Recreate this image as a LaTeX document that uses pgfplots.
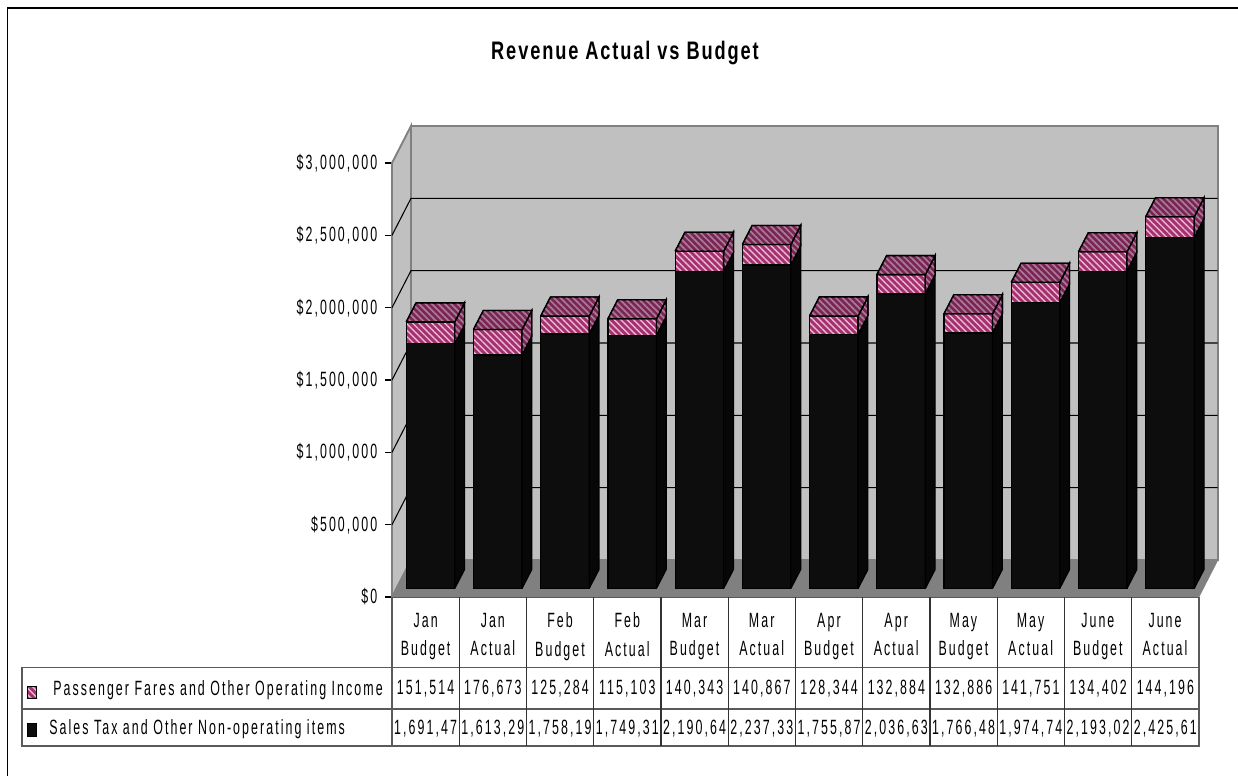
\documentclass[border=0pt]{standalone}
\usepackage{pgfplots}
\usepackage{pgfplotstable}
\usepackage{fontspec}
\pgfplotsset{compat=1.18}
\usetikzlibrary{patterns.meta}
\setmainfont{Liberation Sans}
\newfontfamily\chartfont[FakeStretch=0.6,LetterSpace=10]{Liberation Sans}
\newfontfamily\titlefont[FakeStretch=0.72,LetterSpace=7.4]{Liberation Sans Bold}

\definecolor{wallgrey}{HTML}{C0C0C0}
\definecolor{floorgrey}{HTML}{808080}
\definecolor{barblack}{HTML}{0D0D0D}
\definecolor{barside}{HTML}{070707}
\definecolor{fareface}{HTML}{A5306E}
\definecolor{farestripe}{HTML}{E8B8D4}
\definecolor{faredark}{HTML}{7A2455}
\definecolor{faredarkstripe}{HTML}{A87A94}

% revenue by month, in dollars
\pgfplotstableread{
sales   fares
1691470 151514
1613290 176673
1758190 125284
1749310 115103
2190640 140343
2237330 140867
1755870 128344
2036630 132884
1766480 132886
1974740 141751
2193020 134402
2425610 144196
}\revenue

% corners of the three visible faces of a box: across, up, into the depth
\pgfplotstableread{
u h d
0 0 0
1 0 0
1 1 0
0 1 0
0 0 0
}\frontface
\pgfplotstableread{
u h d
1 0 0
1 0 1
1 1 1
1 1 0
1 0 0
}\sideface
\pgfplotstableread{
u h d
0 1 0
1 1 0
1 1 1
0 1 1
0 1 0
}\topface

\newcommand{\barface}[5]{% style, corners, index, lower, upper
  \addplot[#1] table[
    x expr={#3+0.0729-0.3606+\thisrow{u}*0.7212+\thisrow{d}*0.1457},
    y expr={58800+#4+\thisrow{h}*(#5-#4)+\thisrow{d}*131400}
  ] {#2};
}

\tikzset{
  black face/.style={draw=black,line width=0.9pt,fill=barblack},
  black side/.style={draw=black,line width=0.9pt,fill=barside},
  fare face/.style={draw=black,line width=1pt,preaction={fill=fareface},
    pattern={Lines[angle=-45,distance=3.4pt,line width=1.05pt]},pattern color=farestripe},
  fare dark/.style={draw=black,line width=1pt,preaction={fill=faredark},
    pattern={Lines[angle=-45,distance=3.4pt,line width=1.3pt]},pattern color=faredarkstripe},
}

\begin{document}
\begin{tikzpicture}[x=0.75pt,y=-0.75pt]
\useasboundingbox (0,0) rectangle (1238,776);
\fill[white] (0,0) rectangle (1238,776);

% chart frame, open at the right and bottom
\draw[black,line width=1pt] (1238,8) -- (7.5,8) -- (7.5,776);

\node[font=\titlefont\fontsize{19pt}{21pt}\selectfont] at (625,53) {Revenue Actual vs Budget};

\begin{axis}[
  at={(294pt,-447.75pt)},anchor=south west,
  scale only axis,width=605pt,height=325.5pt,
  xmin=-0.5,xmax=11.5,ymin=0,ymax=3000000,
  clip=false,
  axis x line*=bottom,axis y line*=left,
  axis line style={draw=black,line width=0.9pt,-},
  xtick={0,...,11},
  xticklabels={{Jan\\Budget},{Jan\\Actual},{Feb\\Budget},{Feb\\Actual},{Mar\\Budget},{Mar\\Actual},{Apr\\Budget},{Apr\\Actual},{May\\Budget},{May\\Actual},{June\\Budget},{June\\Actual}},
  xticklabel style={align=center,font=\chartfont\fontsize{15.5pt}{21.5pt}\selectfont,anchor=north,yshift=-3.3pt},
  x tick style={draw=none},
  ytick={0,500000,1000000,1500000,2000000,2500000,3000000},
  yticklabels={{\$0},{\$500,000},{\$1,000,000},{\$1,500,000},{\$2,000,000},{\$2,500,000},{\$3,000,000}},
  scaled y ticks=false,
  yticklabel style={font=\chartfont\fontsize{15.5pt}{17pt}\selectfont,anchor=east,xshift=-2.5pt},
  y tick style={draw=black,line width=0.9pt},
  tick align=outside,major tick length=5pt,
]
% back wall, side wall and floor, pushed back by the chart depth
\addplot[fill=wallgrey,draw=floorgrey,line width=1.4pt] coordinates {(-0.2175,255900) (11.7825,255900) (11.7825,3255900) (-0.2175,3255900) (-0.2175,255900)};
\addplot[fill=wallgrey,draw=floorgrey,line width=1.4pt] coordinates {(-0.5,0) (-0.5,3000000) (-0.2175,3255900) (-0.2175,255900) (-0.5,0)};
\addplot[fill=floorgrey,draw=floorgrey,line width=0.8pt] coordinates {(-0.5,0) (-0.2175,255900) (11.7825,255900) (11.5,0) (-0.5,0)};
% gridlines across the two walls
\addplot[black,line width=0.8pt] coordinates {(-0.5,500000) (-0.2175,755900) (11.7825,755900)};
\addplot[black,line width=0.8pt] coordinates {(-0.5,1000000) (-0.2175,1255900) (11.7825,1255900)};
\addplot[black,line width=0.8pt] coordinates {(-0.5,1500000) (-0.2175,1755900) (11.7825,1755900)};
\addplot[black,line width=0.8pt] coordinates {(-0.5,2000000) (-0.2175,2255900) (11.7825,2255900)};
\addplot[black,line width=0.8pt] coordinates {(-0.5,2500000) (-0.2175,2755900) (11.7825,2755900)};

\pgfplotsinvokeforeach{0,...,11}{
  \pgfplotstablegetelem{#1}{sales}\of\revenue
  \edef\salesval{\pgfplotsretval}
  \pgfplotstablegetelem{#1}{fares}\of\revenue
  \edef\faresval{\pgfplotsretval}
  \barface{black face}{\frontface}{#1}{0}{\salesval}
  \barface{black side}{\sideface}{#1}{0}{\salesval}
  \barface{fare face}{\frontface}{#1}{\salesval}{\salesval+\faresval}
  \barface{fare dark}{\sideface}{#1}{\salesval}{\salesval+\faresval}
  \barface{fare dark}{\topface}{#1}{\salesval}{\salesval+\faresval}
}
\end{axis}

% data table below the plot
\begin{scope}[line width=0.9pt]
\draw[floorgrey!70!black] (22,667.5) rectangle (1199,746);
\draw[floorgrey!70!black] (22,709) -- (1199,709);
\draw[floorgrey!70!black] (392,597) -- (392,746);
\draw[floorgrey!70!black] (1199,597) -- (1199,746);
\foreach \i in {1,...,11}
  \draw[black!80] ({392+67.25*\i},597) -- ({392+67.25*\i},746);
\end{scope}

\path[font=\chartfont\fontsize{15.5pt}{17pt}\selectfont]
  foreach \i/\t in {0/151{,}514,1/176{,}673,2/125{,}284,3/115{,}103,4/140{,}343,5/140{,}867,6/128{,}344,7/132{,}884,8/132{,}886,9/141{,}751,10/134{,}402,11/144{,}196}
    {({425.6+67.25*\i},689) node {\t}}
  foreach \i/\t in {0/1{,}691{,}47,1/1{,}613{,}29,2/1{,}758{,}19,3/1{,}749{,}31,4/2{,}190{,}64,5/2{,}237{,}33,6/1{,}755{,}87,7/2{,}036{,}63,8/1{,}766{,}48,9/1{,}974{,}74,10/2{,}193{,}02,11/2{,}425{,}61}
    {({425.6+67.25*\i},728.5) node {\t}};

% legend keys and series names in the first column
\path[fare face,line width=0.6pt] (27,686) rectangle (36,698);
\fill[barblack,draw=black] (27,723) rectangle (36,736);
\node[font=\chartfont\fontsize{15.5pt}{17pt}\selectfont,anchor=west,inner sep=0pt] at (53,690) {Passenger Fares and Other Operating Income};
\node[font=\chartfont\fontsize{15.5pt}{17pt}\selectfont,anchor=west,inner sep=0pt] at (49,729) {Sales Tax and Other Non-operating items};
\end{tikzpicture}
\end{document}
